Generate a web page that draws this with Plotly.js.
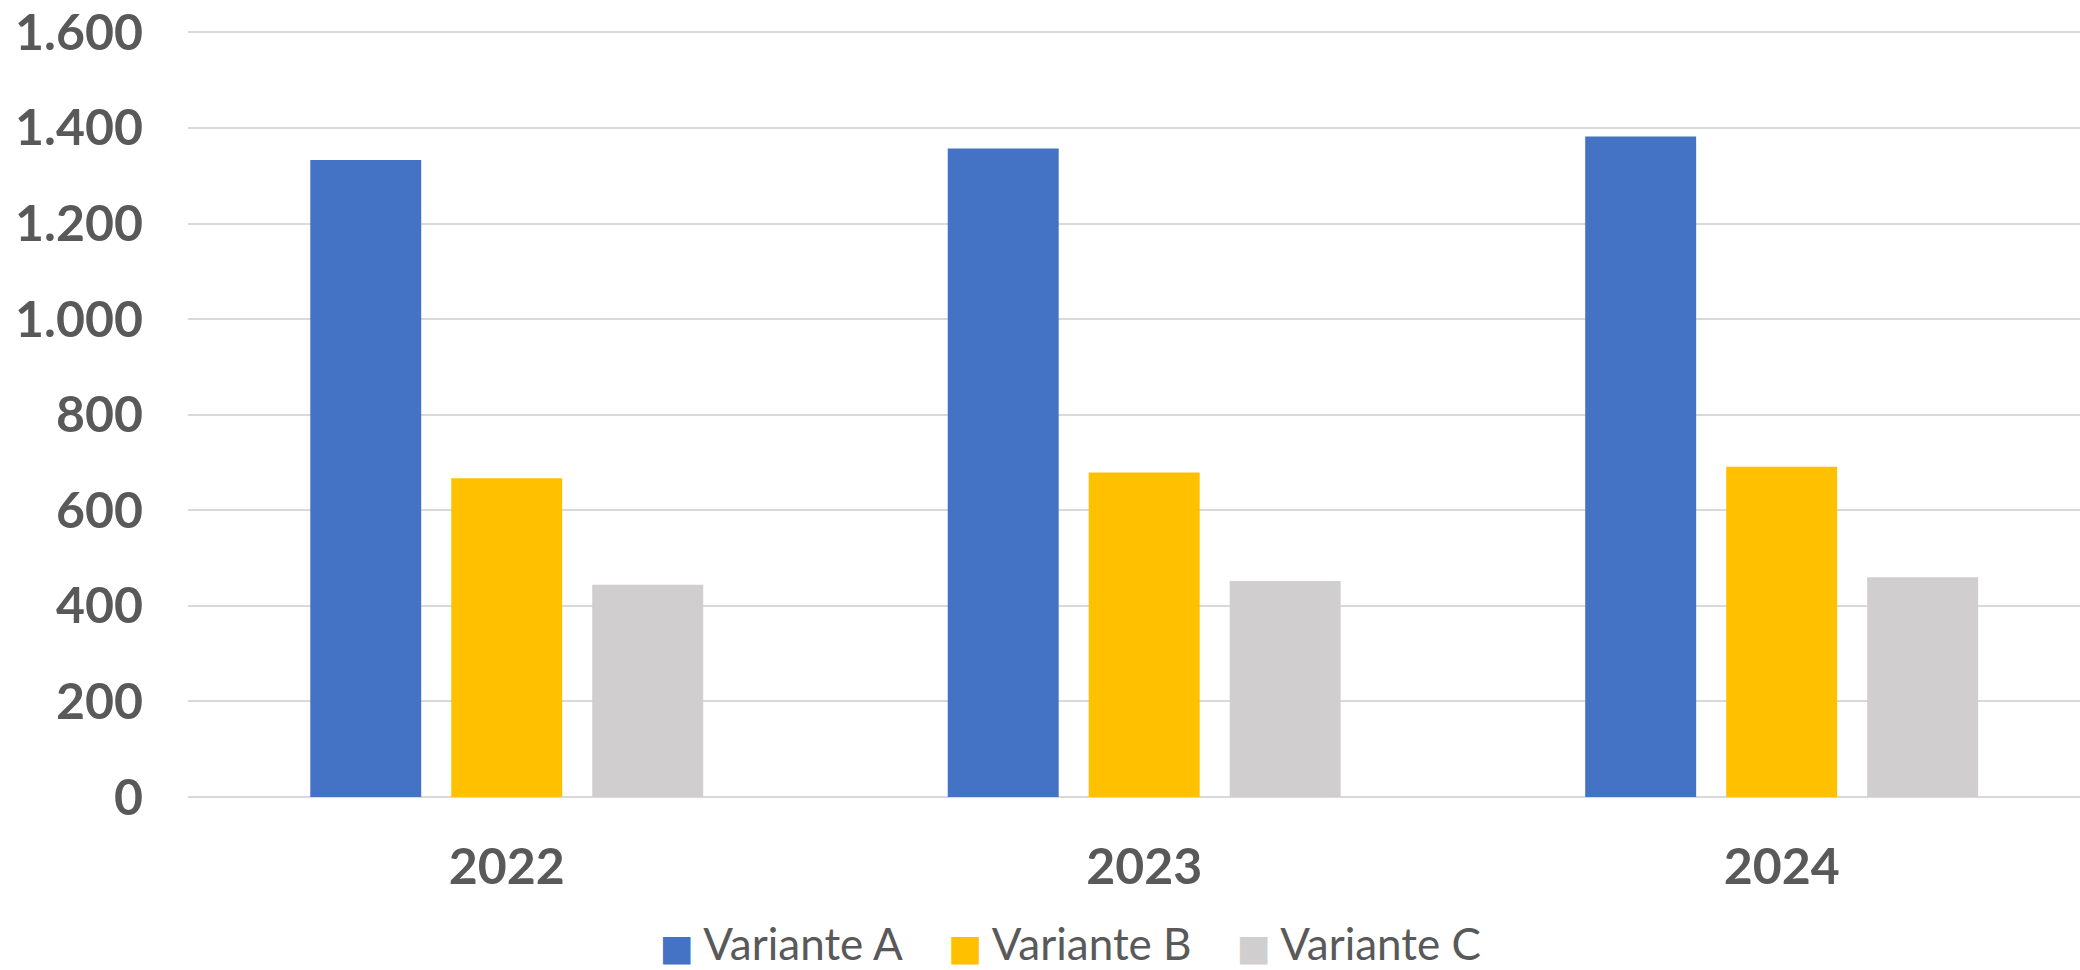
<!DOCTYPE html>
<html>
<head>
<meta charset="utf-8">
<script src="https://cdn.plot.ly/plotly-3.0.1.min.js"></script>
<style>
  html, body { margin: 0; padding: 0; background: #ffffff; }
  #chart { width: 2080px; height: 970px; }
</style>
</head>
<body>
<div id="chart"></div>
<script>
const years = ['2022', '2023', '2024'];
const seriesNames = ['Variante A', 'Variante B', 'Variante C'];
const varianteA = [1333, 1357, 1382];
const varianteB = [667, 679, 691];
const varianteC = [444, 452, 460];
const yTicks = [0, 200, 400, 600, 800, 1000, 1200, 1400, 1600];

const colors = ['#4472C4', '#FFC000', '#D0CECE'];
const textColor = '#595959';
const values = [varianteA, varianteB, varianteC];

const traces = values.map((v, i) => ({
  type: 'bar',
  x: years,
  y: v,
  name: seriesNames[i],
  legendgroup: seriesNames[i],
  showlegend: false,
  marker: { color: colors[i], line: { width: 0 } },
  hoverinfo: 'x+y+name'
}));

// legend entries (symbol drawn as a coloured square glyph)
seriesNames.forEach((n, i) => {
  traces.push({
    type: 'scatter',
    mode: 'none',
    x: [null],
    y: [null],
    name: '<span style="color:' + colors[i] + ';font-size:36px;font-family:DejaVu Sans">■</span> ' + n,
    legendgroup: n,
    showlegend: true,
    hoverinfo: 'skip'
  });
});

const layout = {
  width: 2080,
  height: 970,
  paper_bgcolor: '#ffffff',
  plot_bgcolor: '#ffffff',
  separators: ',.',
  margin: { l: 188, r: 0, t: 30, b: 173, pad: 0, autoexpand: false },
  barmode: 'group',
  bargap: 0.3365,
  bargroupgap: 0.213,
  showlegend: true,
  font: { family: 'Lato, "Open Sans", sans-serif', color: textColor },
  xaxis: {
    type: 'category',
    range: [-0.5, 2.468],
    showgrid: false,
    zeroline: false,
    showline: false,
    ticks: '',
    ticklabelstandoff: 36,
    tickfont: { family: 'Lato, sans-serif', size: 50, color: textColor, weight: 700 }
  },
  yaxis: {
    range: [0, 1605],
    tickvals: yTicks,
    tickformat: ',d',
    showgrid: true,
    gridcolor: '#D9D9D9',
    gridwidth: 2,
    zeroline: true,
    zerolinecolor: '#D9D9D9',
    zerolinewidth: 2,
    showline: false,
    ticks: '',
    ticklabeloverflow: 'allow',
    ticklabelstandoff: 44,
    tickfont: { family: 'Lato, sans-serif', size: 50, color: textColor, weight: 700 }
  },
  legend: {
    orientation: 'h',
    xref: 'container',
    yref: 'container',
    x: 0.5063,
    xanchor: 'center',
    y: 0.028,
    yanchor: 'middle',
    font: { family: 'Lato, sans-serif', size: 44, color: textColor },
    itemwidth: 30,
    tracegroupgap: 0,
    bgcolor: 'rgba(0,0,0,0)'
  }
};

Plotly.newPlot('chart', traces, layout, { displayModeBar: false, staticPlot: true });
</script>
</body>
</html>
